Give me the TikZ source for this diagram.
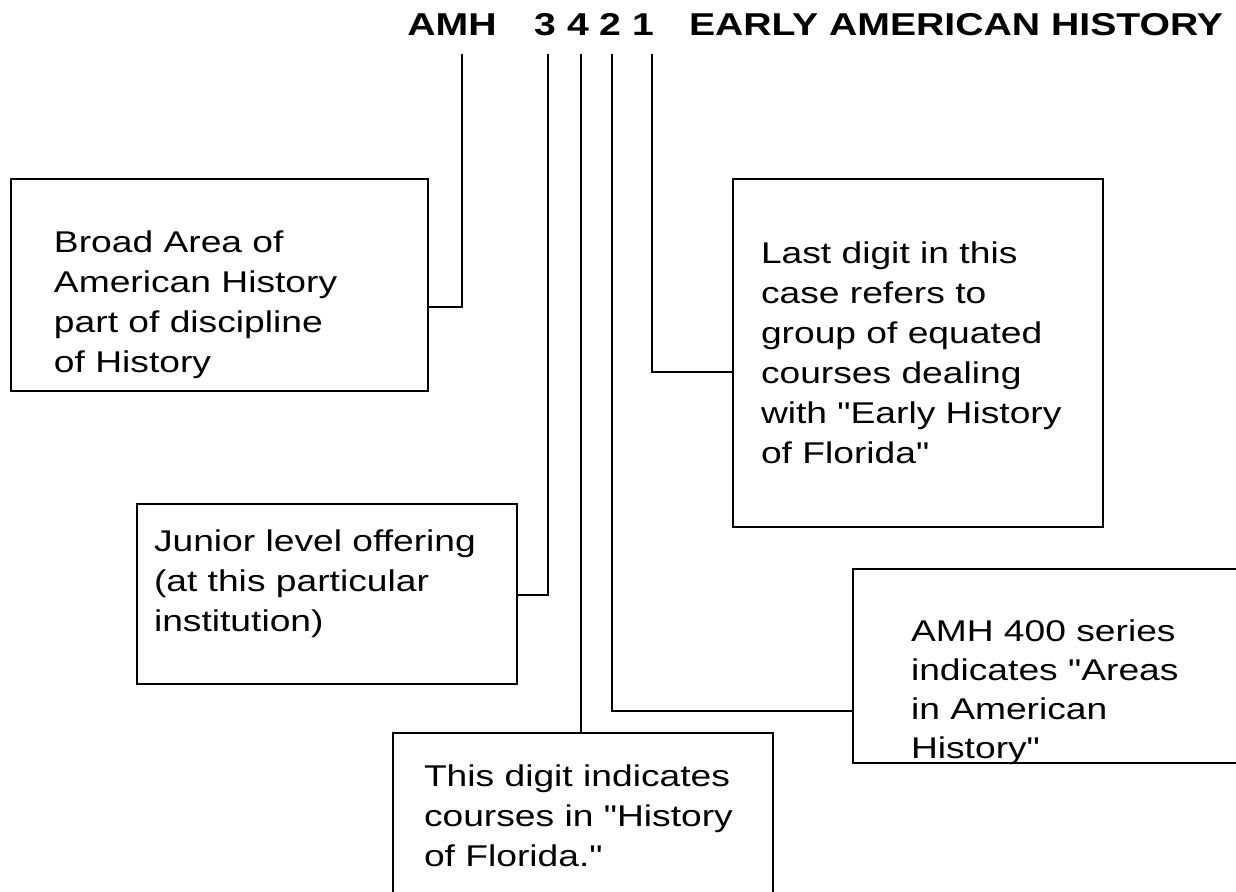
\documentclass[tikz,border=0pt]{standalone}
\usepackage{fontspec}
\setmainfont{Liberation Sans}[FakeStretch=1.24, Ligatures=TeXOff]
\usetikzlibrary{positioning}

\begin{document}
\begin{tikzpicture}[x=0.5pt, y=-0.5pt, line width=1pt, draw=black]
    \tikzstyle{box}=[draw, rectangle, inner sep=0pt, anchor=north west]
    \tikzstyle{note}=[align=left, inner sep=0pt, anchor=north west, font=\fontsize{15}{20}\selectfont]
    \tikzstyle{code}=[inner sep=0pt, anchor=base, font=\fontsize{15.8}{18}\selectfont\bfseries]

    \useasboundingbox (0,0) rectangle (1236,892);
    \clip (0,0) rectangle (1236,892);

    \node[code] (amh) at (452,36) {AMH};
    \node[code] (d3) at (545,36) {3};
    \node[code] (d4) at (578,36) {4};
    \node[code] (d2) at (610,36) {2};
    \node[code] (d1) at (643,36) {1};
    \node[code, anchor=base west] (title) at (688,36) {EARLY AMERICAN HISTORY};

    \coordinate (c-amh) at (462,54);
    \coordinate (c-3) at (548,54);
    \coordinate (c-4) at (581,54);
    \coordinate (c-2) at (612,54);
    \coordinate (c-1) at (652,54);

    % boxes
    \node[box, minimum width=208.5pt, minimum height=106pt] (area) at (10,178) {};
    \node[box, minimum width=185pt, minimum height=174pt] (last) at (732,178) {};
    \node[box, minimum width=190pt, minimum height=90pt] (junior) at (136,503) {};
    \node[box, minimum width=210pt, minimum height=97pt] (series) at (852,568) {};
    \node[box, minimum width=190pt, minimum height=100pt] (digit) at (392,732) {};

    \node[note] (area-t) at (53,230) {Broad Area of\\American History\\part of discipline\\of History};
    \node[note] (last-t) at (760,241) {Last digit in this\\case refers to\\group of equated\\courses dealing\\with "Early History\\of Florida"};
    \node[note] (junior-t) at (153,529) {Junior level offering\\(at this particular\\institution)};
    \node[note, font=\fontsize{15}{19.5}\selectfont] (series-t) at (910,619) {AMH 400 series\\indicates "Areas\\in American\\History"};
    \node[note] (digit-t) at (423,764) {This digit indicates\\courses in "History\\of Florida."};

    \draw (c-amh) |- (area.east |- 0,307);
    \draw (c-3) |- (junior.east |- 0,595);
    \draw (c-4) -- (digit.north -| c-4);
    \draw (c-2) |- (series.west |- 0,711);
    \draw (c-1) |- (last.west |- 0,372);
\end{tikzpicture}
\end{document}
